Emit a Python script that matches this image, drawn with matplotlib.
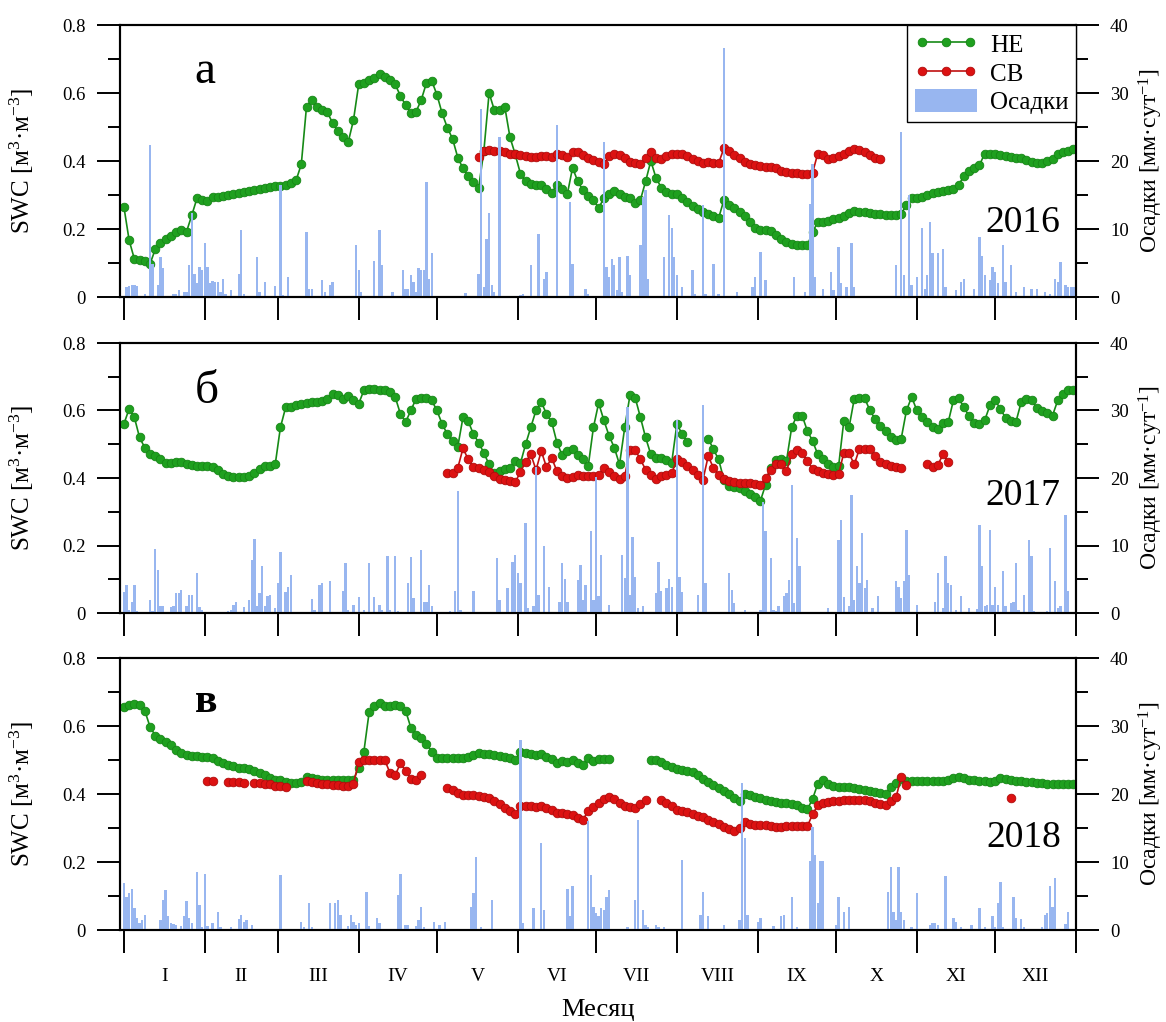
import numpy as np
import matplotlib
matplotlib.use("Agg")
import matplotlib.pyplot as plt
from matplotlib.ticker import MultipleLocator, FixedLocator, NullFormatter, FixedFormatter

plt.rcParams['font.family'] = ['Liberation Serif', 'DejaVu Serif']
plt.rcParams['mathtext.fontset'] = 'custom'
plt.rcParams['mathtext.rm'] = 'Liberation Serif'
plt.rcParams['mathtext.it'] = 'Liberation Serif:italic'
plt.rcParams['mathtext.bf'] = 'Liberation Serif:bold'

NA = np.nan
STEP = 2  # SWC read every second day

month_starts = [1, 32, 60, 91, 121, 152, 182, 213, 244, 274, 305, 335, 366]
month_names = ['I', 'II', 'III', 'IV', 'V', 'VI', 'VII', 'VIII', 'IX', 'X', 'XI', 'XII']

# ---------------- 2016 ----------------
ne_2016_start = 1
ne_2016 = [
    0.265, 0.167, 0.112, 0.108, 0.105, 0.097, 0.140, 0.160, 0.172, 0.180,
    0.190, 0.198, 0.192, 0.240, 0.290, 0.285, 0.283, 0.293, 0.294, 0.297,
    0.300, 0.303, 0.306, 0.309, 0.312, 0.316, 0.319, 0.322, 0.324, 0.326,
    0.327, 0.330, 0.334, 0.343, 0.390, 0.560, 0.578, 0.558, 0.550, 0.543,
    0.512, 0.487, 0.470, 0.456, 0.520, 0.625, 0.630, 0.637, 0.645, 0.657,
    0.648, 0.638, 0.625, 0.592, 0.564, 0.540, 0.545, 0.580, 0.630, 0.636,
    0.595, 0.540, 0.498, 0.465, 0.410, 0.378, 0.355, 0.338, 0.322, 0.430,
    0.600, 0.550, 0.550, 0.560, 0.470, 0.420, 0.363, 0.340, 0.332, 0.329,
    0.328, 0.318, 0.307, 0.330, 0.318, 0.303, 0.380, 0.340, 0.314, 0.298,
    0.285, 0.262, 0.290, 0.304, 0.312, 0.303, 0.293, 0.290, 0.276, 0.285,
    0.340, 0.400, 0.350, 0.322, 0.308, 0.304, 0.302, 0.292, 0.280, 0.268,
    0.258, 0.250, 0.244, 0.238, 0.232, 0.285, 0.272, 0.262, 0.250, 0.237,
    0.220, 0.204, 0.197, 0.196, 0.194, 0.183, 0.170, 0.161, 0.157, 0.153,
    0.152, 0.152, 0.190, 0.221, 0.221, 0.224, 0.228, 0.231, 0.237, 0.248,
    0.254, 0.251, 0.249, 0.247, 0.245, 0.244, 0.242, 0.240, 0.240, 0.245,
    0.270, 0.290, 0.292, 0.295, 0.300, 0.305, 0.308, 0.312, 0.315, 0.319,
    0.330, 0.355, 0.372, 0.380, 0.388, 0.422, 0.422, 0.420, 0.417, 0.415,
    0.412, 0.410, 0.408, 0.404, 0.398, 0.395, 0.395, 0.400, 0.406, 0.420,
    0.425, 0.430, 0.434,
]
cb_2016_start = 137
cb_2016 = [
    0.412, 0.430, 0.432, 0.430, 0.428, 0.425, 0.422, 0.420, 0.418, 0.415,
    0.413, 0.412, 0.415, 0.414, 0.412, 0.420, 0.418, 0.412, 0.425, 0.425,
    0.418, 0.410, 0.402, 0.398, 0.390, 0.414, 0.420, 0.418, 0.410, 0.398,
    0.393, 0.390, 0.410, 0.427, 0.410, 0.405, 0.415, 0.422, 0.422, 0.420,
    0.414, 0.405, 0.400, 0.395, 0.396, 0.395, 0.394, 0.437, 0.428, 0.418,
    0.408, 0.398, 0.390, 0.387, 0.384, 0.383, 0.382, 0.378, 0.371, 0.367,
    0.365, 0.364, 0.363, 0.363, 0.365, 0.422, 0.418, 0.407, 0.410, 0.415,
    0.422, 0.430, 0.436, 0.432, 0.426, 0.418, 0.410, 0.406,
]
rain_2016 = [
    (2, 1.4), (3, 1.6), (4, 1.7), (5, 1.8), (6, 1.6), (9, 0.4), (11, 22.3), (12, 4.9),
    (14, 1.7), (15, 5.9), (16, 4.2), (20, 0.4), (21, 0.5), (22, 1.0), (24, 0.7), (25, 0.7),
    (26, 4.7), (27, 12.3), (28, 3.4), (29, 2.0), (30, 4.4), (31, 3.9), (32, 7.9), (33, 4.4),
    (34, 2.0), (35, 2.4), (36, 2.2), (37, 2.2), (38, 0.7), (39, 2.7), (40, 0.5), (42, 1.0),
    (45, 3.4), (46, 9.8), (47, 0.5), (52, 5.9), (53, 0.7), (55, 2.2), (59, 1.6), (61, 16.4),
    (62, 0.3), (64, 3.0), (71, 9.6), (72, 1.2), (73, 1.2), (77, 2.5), (78, 0.7), (80, 1.7),
    (81, 2.2), (90, 7.6), (91, 3.9), (92, 0.7), (97, 5.3), (99, 9.8), (100, 4.7), (104, 0.7),
    (108, 3.9), (109, 1.2), (110, 1.2), (111, 3.3), (112, 2.2), (113, 0.7), (114, 4.2),
    (115, 3.9), (116, 3.9), (117, 16.9), (118, 2.7), (119, 6.4), (132, 0.6), (137, 3.4),
    (138, 27.7), (139, 1.5), (140, 8.6), (141, 12.3), (142, 1.7), (143, 0.7), (145, 23.6),
    (153, 0.3), (154, 0.5), (157, 4.7), (160, 9.3), (162, 2.7), (163, 3.7), (167, 25.3),
    (172, 14.0), (173, 4.9), (178, 1.2), (179, 0.5), (185, 22.8), (186, 4.4), (187, 2.9),
    (188, 5.6), (189, 4.7), (190, 1.0), (191, 5.9), (192, 0.7), (194, 6.1), (195, 3.2),
    (199, 7.6), (200, 14.7), (201, 15.7), (202, 2.7), (208, 5.9), (210, 12.0), (211, 10.1),
    (212, 5.9), (213, 3.2), (215, 1.5), (219, 3.9), (220, 0.5), (223, 13.5), (224, 0.5),
    (227, 4.9), (229, 0.5), (231, 36.6), (236, 0.7), (242, 1.5), (243, 2.9), (245, 6.6),
    (247, 2.5), (258, 2.9), (262, 0.7), (264, 13.7), (265, 19.6), (266, 2.9), (269, 1.2),
    (272, 3.7), (273, 1.0), (275, 7.4), (276, 2.0), (278, 1.5), (280, 7.9), (281, 1.5),
    (297, 4.7), (299, 24.3), (300, 3.2), (302, 15.0), (303, 1.7), (305, 2.9), (307, 10.1),
    (308, 1.2), (309, 3.2), (310, 11.0), (311, 6.4), (313, 6.4), (315, 7.1), (316, 1.5),
    (320, 1.0), (322, 2.2), (323, 2.7), (327, 1.2), (329, 8.8), (330, 6.1), (331, 3.2),
    (333, 2.5), (334, 4.4), (335, 3.7), (336, 2.0), (338, 7.6), (339, 2.2), (341, 4.7),
    (343, 0.7), (346, 1.5), (349, 1.2), (351, 1.2), (354, 0.7), (356, 0.5), (358, 2.7),
    (359, 2.2), (360, 5.2), (362, 1.7), (363, 1.5), (364, 1.4), (365, 1.5),
]

# ---------------- 2017 ----------------
ne_2017_start = 1
ne_2017 = [
    0.560, 0.605, 0.580, 0.520, 0.490, 0.472, 0.465, 0.455, 0.443, 0.445,
    0.446, 0.446, 0.442, 0.438, 0.436, 0.435, 0.435, 0.434, 0.425, 0.413,
    0.405, 0.404, 0.402, 0.402, 0.405, 0.415, 0.428, 0.435, 0.436, 0.440,
    0.550, 0.609, 0.610, 0.615, 0.620, 0.623, 0.625, 0.626, 0.627, 0.635,
    0.650, 0.645, 0.633, 0.642, 0.630, 0.620, 0.660, 0.665, 0.663, 0.662,
    0.660, 0.656, 0.640, 0.590, 0.566, 0.600, 0.635, 0.638, 0.636, 0.630,
    0.600, 0.560, 0.530, 0.510, 0.493, 0.580, 0.568, 0.530, 0.505, 0.474,
    0.440, 0.414, 0.420, 0.428, 0.430, 0.450, 0.443, 0.500, 0.550, 0.601,
    0.625, 0.590, 0.566, 0.505, 0.468, 0.480, 0.485, 0.468, 0.455, 0.435,
    0.550, 0.622, 0.571, 0.525, 0.490, 0.440, 0.550, 0.645, 0.638, 0.580,
    0.520, 0.470, 0.458, 0.460, 0.452, 0.445, 0.560, 0.530, 0.507, NA,
    NA, NA, 0.517, 0.485, 0.455, 0.395, 0.376, 0.374, 0.370, 0.362,
    0.354, 0.343, 0.332, 0.380, 0.430, 0.452, 0.455, 0.450, 0.550, 0.585,
    0.585, 0.540, 0.510, 0.470, 0.455, 0.440, 0.434, 0.436, 0.570, 0.550,
    0.635, 0.638, 0.636, 0.600, 0.575, 0.553, 0.540, 0.520, 0.512, 0.517,
    0.600, 0.640, 0.600, 0.580, 0.566, 0.552, 0.546, 0.562, 0.565, 0.630,
    0.636, 0.610, 0.583, 0.562, 0.560, 0.571, 0.615, 0.630, 0.605, 0.578,
    0.570, 0.567, 0.625, 0.635, 0.631, 0.606, 0.598, 0.593, 0.585, 0.630,
    0.648, 0.660, 0.662,
]
cb_2017_start = 125
cb_2017 = [
    0.414, 0.414, 0.430, 0.488, 0.455, 0.433, 0.430, 0.424, 0.418, 0.406,
    0.398, 0.395, 0.390, 0.387, 0.418, 0.448, 0.470, 0.424, 0.480, 0.432,
    0.460, 0.420, 0.405, 0.401, 0.402, 0.408, 0.405, 0.405, 0.407, 0.409,
    0.430, 0.418, 0.405, 0.397, 0.405, 0.483, 0.483, 0.455, 0.425, 0.408,
    0.397, 0.405, 0.410, 0.414, 0.455, 0.448, 0.436, 0.425, 0.410, 0.395,
    0.465, 0.430, 0.410, 0.398, 0.390, 0.388, 0.386, 0.385, 0.384, 0.382,
    0.379, 0.400, 0.425, 0.440, 0.440, 0.420, 0.470, 0.483, 0.475, 0.450,
    0.428, 0.420, 0.414, 0.411, 0.409, 0.412, 0.475, 0.473, 0.440, 0.487,
    0.487, 0.487, 0.465, 0.448, 0.440, 0.436, 0.432, 0.430, NA, NA,
    NA, NA, 0.441, 0.433, 0.438, 0.470, 0.448,
]
rain_2017 = [
    (1, 3.1), (2, 4.2), (3, 0.5), (4, 1.7), (5, 4.2), (6, 0.3), (11, 2.0), (12, 0.3),
    (13, 9.5), (14, 6.4), (15, 1.0), (16, 1.1), (19, 0.9), (20, 1.0), (21, 3.0), (22, 2.9),
    (23, 3.4), (25, 1.0), (26, 2.6), (27, 2.6), (29, 6.0), (30, 0.9), (31, 0.5), (39, 0.2),
    (41, 0.3), (42, 0.4), (43, 1.2), (44, 1.7), (47, 0.9), (49, 1.9), (50, 7.8), (51, 10.9),
    (52, 1.0), (53, 3.0), (54, 6.9), (55, 1.0), (56, 2.5), (57, 2.7), (59, 0.7), (60, 4.4),
    (61, 9.0), (63, 3.1), (64, 3.9), (65, 5.7), (73, 2.1), (74, 0.4), (76, 4.2), (77, 4.4),
    (80, 4.7), (85, 3.2), (86, 7.4), (87, 0.5), (89, 1.2), (91, 2.3), (93, 0.5), (95, 7.4),
    (97, 2.3), (99, 1.2), (100, 0.5), (102, 8.4), (103, 0.5), (105, 8.4), (106, 0.3),
    (110, 4.4), (111, 8.3), (112, 2.2), (115, 9.4), (116, 1.6), (117, 1.6), (118, 4.2),
    (119, 1.0), (126, 0.3), (128, 3.2), (129, 18.0), (130, 0.5), (135, 3.2), (144, 8.2),
    (145, 2.0), (148, 3.7), (150, 7.6), (151, 8.6), (152, 6.0), (153, 4.5), (155, 13.3),
    (156, 0.7), (158, 1.1), (159, 21.7), (160, 2.7), (162, 10.0), (164, 3.9), (168, 1.7),
    (169, 7.4), (170, 5.0), (171, 1.6), (175, 4.9), (176, 7.1), (177, 2.0), (178, 4.2),
    (180, 12.1), (181, 2.0), (182, 20.2), (183, 2.5), (184, 8.6), (187, 1.2), (192, 8.6),
    (193, 5.2), (194, 30.5), (195, 2.7), (196, 11.3), (197, 5.4), (198, 0.7), (200, 1.0),
    (205, 3.0), (206, 7.6), (207, 3.2), (209, 3.7), (210, 5.0), (211, 3.9), (213, 28.6),
    (214, 5.4), (215, 3.1), (221, 2.7), (223, 30.8), (224, 4.4), (233, 6.0), (234, 3.4),
    (235, 1.5), (239, 0.5), (245, 0.5), (246, 16.5), (247, 12.1), (249, 8.1), (250, 0.5),
    (251, 0.3), (252, 1.0), (254, 2.5), (255, 3.0), (256, 4.9), (257, 19.0), (258, 1.5),
    (259, 11.1), (260, 6.9), (271, 0.7), (275, 10.8), (276, 13.8), (277, 2.4), (279, 1.0),
    (280, 17.5), (281, 2.0), (282, 6.9), (283, 4.4), (284, 11.8), (285, 3.7), (286, 4.9),
    (288, 0.7), (290, 2.5), (294, 0.1), (297, 4.7), (298, 3.9), (299, 2.2), (300, 4.7),
    (301, 12.3), (302, 5.7), (305, 1.2), (312, 1.7), (313, 5.9), (315, 0.7), (316, 8.4),
    (317, 4.4), (318, 4.2), (320, 0.5), (322, 2.5), (325, 0.7), (328, 0.6), (329, 13.1),
    (330, 7.0), (331, 1.0), (332, 1.2), (333, 12.3), (334, 1.2), (335, 3.9), (336, 1.2),
    (338, 6.2), (339, 1.0), (341, 1.5), (342, 1.7), (343, 7.4), (344, 0.5), (346, 2.7),
    (348, 10.8), (349, 8.4), (350, 0.3), (355, 0.3), (356, 9.6), (358, 4.7), (359, 0.7),
    (360, 1.0), (362, 14.5), (363, 3.3),
]

# ---------------- 2018 ----------------
ne_2018_start = 1
ne_2018 = [
    0.655, 0.662, 0.664, 0.662, 0.645, 0.598, 0.572, 0.562, 0.553, 0.543,
    0.530, 0.520, 0.515, 0.513, 0.511, 0.509, 0.508, 0.505, 0.497, 0.490,
    0.485, 0.481, 0.477, 0.476, 0.474, 0.469, 0.462, 0.455, 0.447, 0.442,
    0.440, 0.435, 0.432, 0.431, 0.436, 0.450, 0.448, 0.445, 0.442, 0.441,
    0.441, 0.440, 0.440, 0.440, 0.442, 0.476, 0.525, 0.640, 0.660, 0.668,
    0.660, 0.658, 0.662, 0.660, 0.645, 0.595, 0.575, 0.565, 0.548, 0.525,
    0.506, 0.506, 0.506, 0.506, 0.506, 0.506, 0.508, 0.514, 0.520, 0.519,
    0.517, 0.514, 0.511, 0.508, 0.507, 0.500, 0.525, 0.521, 0.518, 0.515,
    0.518, 0.510, 0.502, 0.490, 0.497, 0.495, 0.500, 0.490, 0.485, 0.505,
    0.497, 0.503, 0.503, 0.504, NA, NA, NA, NA, NA, NA,
    NA, 0.500, 0.500, 0.494, 0.486, 0.479, 0.475, 0.470, 0.467, 0.464,
    0.455, 0.443, 0.435, 0.426, 0.418, 0.410, 0.400, 0.388, 0.380, 0.400,
    0.397, 0.392, 0.387, 0.383, 0.379, 0.376, 0.375, 0.373, 0.370, 0.367,
    0.360, 0.355, 0.385, 0.430, 0.440, 0.428, 0.423, 0.422, 0.422, 0.422,
    0.419, 0.416, 0.413, 0.409, 0.406, 0.402, 0.401, 0.420, 0.432, 0.445,
    0.437, 0.437, 0.437, 0.437, 0.437, 0.437, 0.437, 0.437, 0.440, 0.446,
    0.449, 0.446, 0.442, 0.440, 0.438, 0.437, 0.435, 0.438, 0.447, 0.443,
    0.440, 0.439, 0.438, 0.436, 0.434, 0.433, 0.432, 0.430, 0.430, 0.429,
    0.429, 0.429, 0.429,
]
cb_2018_start = 33
cb_2018 = [
    0.437, 0.437, NA, NA, 0.434, 0.434, 0.434, 0.433, NA, 0.432,
    0.431, 0.430, 0.428, 0.425, 0.423, 0.422, NA, NA, NA, 0.437,
    0.435, 0.432, 0.430, 0.428, 0.427, 0.426, 0.425, 0.425, 0.430, 0.495,
    0.500, 0.500, 0.500, 0.500, 0.500, 0.462, 0.455, 0.490, 0.468, 0.445,
    0.442, 0.455, NA, NA, NA, NA, 0.417, 0.412, 0.404, 0.397,
    0.396, 0.398, 0.394, 0.391, 0.388, 0.380, 0.370, 0.358, 0.350, 0.340,
    0.365, 0.366, 0.364, 0.361, 0.366, 0.360, 0.352, 0.345, 0.344, 0.342,
    0.338, 0.330, 0.325, 0.350, 0.363, 0.375, 0.385, 0.392, 0.385, 0.374,
    0.366, 0.362, 0.358, 0.370, 0.382, NA, NA, 0.383, 0.373, 0.364,
    0.354, 0.349, 0.346, 0.340, 0.336, 0.332, 0.325, 0.318, 0.311, 0.304,
    0.298, 0.290, 0.300, 0.318, 0.313, 0.310, 0.309, 0.308, 0.305, 0.304,
    0.304, 0.306, 0.306, 0.306, 0.306, 0.305, 0.340, 0.367, 0.374, 0.377,
    0.378, 0.380, 0.381, 0.382, 0.383, 0.382, 0.381, 0.378, 0.375, 0.371,
    0.369, 0.380, 0.390, 0.450, 0.427,
] + [NA] * 19 + [0.388]
rain_2018 = [
    (1, 6.9), (2, 4.9), (3, 5.4), (4, 6.1), (5, 3.2), (6, 1.7), (7, 1.0), (8, 1.5),
    (9, 2.2), (11, 0.1), (12, 0.1), (15, 1.5), (16, 4.4), (17, 5.9), (18, 2.0), (19, 1.0),
    (20, 0.9), (21, 0.8), (23, 0.6), (24, 2.0), (25, 4.2), (26, 1.7), (27, 1.0), (29, 8.6),
    (30, 3.7), (31, 0.5), (32, 8.3), (33, 0.6), (35, 1.0), (37, 2.7), (38, 0.5), (42, 0.4),
    (45, 1.6), (46, 2.2), (47, 1.2), (48, 1.5), (50, 0.7), (61, 8.1), (69, 1.2), (70, 0.5),
    (72, 3.9), (73, 0.4), (80, 3.9), (82, 3.9), (83, 4.4), (84, 2.2), (87, 0.6), (88, 2.2),
    (89, 1.2), (90, 0.7), (91, 1.0), (94, 5.6), (95, 0.6), (98, 1.7), (99, 1.1), (104, 0.1),
    (106, 5.2), (107, 8.3), (109, 0.7), (110, 0.7), (113, 0.6), (114, 1.5), (115, 3.4),
    (116, 0.4), (119, 0.1), (120, 1.2), (122, 0.7), (124, 1.2), (134, 3.4), (135, 5.4),
    (136, 10.8), (137, 0.2), (138, 0.5), (142, 4.4), (153, 28.0), (154, 1.0), (158, 3.2),
    (161, 12.8), (162, 2.9), (171, 6.1), (172, 2.0), (173, 6.4), (179, 16.0), (180, 8.1),
    (181, 3.4), (182, 2.5), (183, 2.0), (184, 3.2), (185, 2.9), (186, 4.9), (187, 5.9),
    (194, 0.5), (197, 4.4), (198, 16.2), (200, 2.9), (201, 0.7), (202, 0.5), (203, 0.2),
    (205, 0.7), (206, 0.5), (208, 0.5), (215, 10.3), (216, 0.2), (222, 2.2), (223, 5.6),
    (225, 2.0), (231, 0.7), (237, 1.5), (238, 21.6), (239, 13.5), (240, 2.2), (244, 1.2),
    (245, 1.7), (250, 0.6), (253, 2.0), (254, 2.2), (257, 4.9), (259, 0.4), (264, 10.1),
    (265, 15.2), (266, 11.0), (267, 3.9), (268, 10.1), (269, 10.1), (274, 0.7), (275, 4.9),
    (277, 2.7), (279, 3.4), (294, 5.6), (295, 9.3), (296, 2.7), (297, 1.5), (298, 9.3),
    (299, 2.7), (300, 1.5), (303, 0.4), (305, 5.4), (307, 0.2), (310, 0.7), (311, 1.1),
    (312, 1.0), (313, 0.7), (316, 7.9), (319, 1.7), (320, 1.2), (322, 0.5), (326, 0.7),
    (329, 3.2), (331, 0.5), (334, 2.0), (335, 0.5), (336, 3.9), (337, 7.1), (338, 0.5),
    (340, 0.2), (342, 4.9), (343, 1.7), (345, 1.6), (346, 0.5), (353, 0.5), (354, 2.2),
    (355, 2.5), (356, 6.4), (357, 3.4), (358, 7.6), (359, 0.2), (362, 0.9), (363, 2.7),
]

panels = [
    (ne_2016_start, ne_2016, cb_2016_start, cb_2016, rain_2016, 'а', '2016'),
    (ne_2017_start, ne_2017, cb_2017_start, cb_2017, rain_2017, 'б', '2017'),
    (ne_2018_start, ne_2018, cb_2018_start, cb_2018, rain_2018, 'в', '2018'),
]
letter_y = [0.787, 0.778, 0.80]
year_y = [0.239, 0.40, 0.305]

GREEN_FACE, GREEN_EDGE, GREEN_LINE = '#1fa01f', '#168616', '#168a16'
RED_FACE, RED_EDGE, RED_LINE = '#dc1212', '#b00c0c', '#c01010'
RAIN = '#98b6f0'

fig = plt.figure(figsize=(11.66, 10.22), dpi=100)
W = 1166.0
H = 1022.0
boxes = [(25, 297), (343, 613), (658, 930)]   # top / bottom of each panel in px

mid_months = [(a + b) / 2 for a, b in zip(month_starts[:-1], month_starts[1:])]

for i, (ne_s, ne, cb_s, cb, rain, letter, year) in enumerate(panels):
    top, bot = boxes[i]
    ax = fig.add_axes([120 / W, 1 - bot / H, 956 / W, (bot - top) / H])
    ax2 = ax.twinx()

    ne = np.array(ne, dtype=float)
    cb = np.array(cb, dtype=float)
    ne_days = ne_s + STEP * np.arange(len(ne))
    cb_days = cb_s + STEP * np.arange(len(cb))
    r_days, r_mm = zip(*rain)

    ax.plot(ne_days, ne, '-o', color=GREEN_LINE, lw=1.2, ms=6.2,
            mfc=GREEN_FACE, mec=GREEN_EDGE, mew=0.6, label='НЕ', zorder=3)
    ax.plot(cb_days, cb, '-o', color=RED_LINE, lw=1.2, ms=6.2,
            mfc=RED_FACE, mec=RED_EDGE, mew=0.6, label='СВ', zorder=3)
    bars = ax2.bar(r_days, r_mm, width=0.9, color=RAIN, edgecolor='none',
                   label='Осадки', zorder=2)

    ax.set_xlim(-0.5, 366)
    ax.set_ylim(0, 0.8)
    ax2.set_ylim(0, 40)

    ax.yaxis.set_major_locator(FixedLocator([0, 0.2, 0.4, 0.6, 0.8]))
    ax.yaxis.set_major_formatter(FixedFormatter(['0', '0.2', '0.4', '0.6', '0.8']))
    ax.yaxis.set_minor_locator(MultipleLocator(0.1))
    ax2.yaxis.set_major_locator(MultipleLocator(10))
    ax2.yaxis.set_minor_locator(MultipleLocator(5))

    ax.xaxis.set_major_locator(FixedLocator(month_starts))
    ax.xaxis.set_major_formatter(NullFormatter())
    if i == 2:
        ax.xaxis.set_minor_locator(FixedLocator(mid_months))
        ax.xaxis.set_minor_formatter(FixedFormatter(month_names))
        ax.tick_params(axis='x', which='minor', length=0, pad=27, labelsize=14)
        ax.set_xlabel('Месяц', fontsize=19)
        ax.xaxis.set_label_coords(0.5, -0.255)
    else:
        ax.xaxis.set_minor_locator(FixedLocator([]))

    ax.tick_params(axis='x', which='major', direction='out', length=16.5, width=1.4)
    ax.tick_params(axis='y', which='major', direction='out', length=16.5, width=1.4,
                   labelsize=13.5, pad=8)
    ax.tick_params(axis='y', which='minor', direction='out', length=8.5, width=1.4)
    ax2.tick_params(axis='y', which='major', direction='out', length=16.5, width=1.4,
                    labelsize=13.5, pad=8)
    ax2.tick_params(axis='y', which='minor', direction='out', length=8.5, width=1.4)

    for a in (ax, ax2):
        for sp in a.spines.values():
            sp.set_linewidth(1.5)

    ax.set_ylabel('SWC [м$^{3}$·м$^{-3}$]', fontsize=18)
    ax.yaxis.set_label_coords(-0.088, 0.5)
    ax2.set_ylabel('Осадки [мм·сут$^{-1}$]', fontsize=17)
    ax2.yaxis.set_label_coords(1.064, 0.5)

    ax.text(0.078, letter_y[i], letter, transform=ax.transAxes, va='baseline',
            ha='left', fontsize=30 if i == 2 else 34,
            fontweight='bold' if i == 2 else 'normal', zorder=5)
    ax2.text(0.984, year_y[i], year, transform=ax.transAxes, va='baseline',
             ha='right', fontsize=27, zorder=5)

    if i == 0:
        handles = ax.get_lines()[:2] + [bars]
        leg = ax2.legend(handles, ['НЕ', 'СВ', 'Осадки'], loc='upper right',
                         borderaxespad=0, fontsize=18, numpoints=3,
                         handlelength=2.5, handleheight=1.0, handletextpad=0.5,
                         labelspacing=0.15, borderpad=0.3, fancybox=False,
                         framealpha=1, edgecolor='black')
        leg.get_frame().set_linewidth(1.0)

fig.savefig('out.png', dpi=100)
